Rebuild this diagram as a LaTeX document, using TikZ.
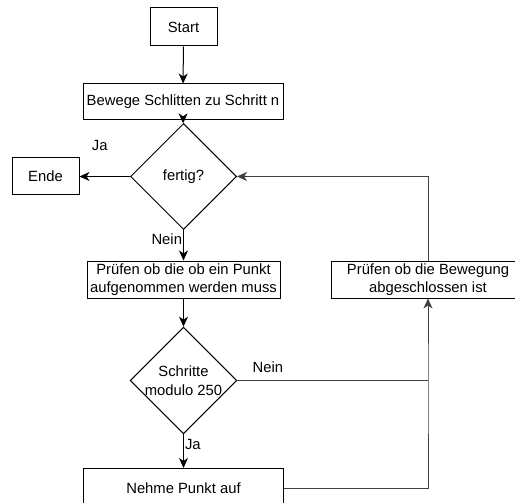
\documentclass[tikz,border=0pt]{standalone}
\usepackage{fontspec}
\setmainfont{Liberation Sans}
\usetikzlibrary{arrows.meta, shapes.geometric}

\tikzset{
	box/.style={draw, rectangle, align=center, inner sep=2pt},
	decision/.style={draw, diamond, align=center, inner sep=0pt, minimum width=106pt, minimum height=106pt},
	label/.style={inner sep=1pt, text=black}
}

\begin{document}
\begin{tikzpicture}[x=1pt, y=1pt, >={Stealth[length=10pt, width=9pt, inset=3pt]}, line width=1pt, font=\fontsize{14.8}{18.5}\selectfont]
			\useasboundingbox (0, 0) rectangle (515, -503);
			\clip (0, 0) rectangle (515, -503);

			\node[box, minimum width=67pt, minimum height=38pt]		(start)	at (183.5, -27)		{Start};
			\node[box, minimum width=200pt, minimum height=36pt]	(move)	at (183, -102)		{Bewege Schlitten zu Schritt n};
			\node[decision]											(done)	at (183.5, -176.5)	{fertig?};
			\node[box, minimum width=67pt, minimum height=37pt]		(ende)	at (45.5, -176.5)	{Ende};
			\node[box, minimum width=193pt, minimum height=37pt]	(check)	at (183.5, -279.5)	{Prüfen ob die ob ein Punkt\\aufgenommen werden muss};
			\node[decision]											(mod)	at (183.5, -380.5)	{Schritte\\modulo 250};
			\node[box, minimum width=200pt, minimum height=40pt]	(take)	at (183.5, -488.5)	{Nehme Punkt auf};
			\node[box, minimum width=194pt, minimum height=37pt]	(motion) at (428, -279.5)	{Prüfen ob die Bewegung\\abgeschlossen ist};
			\coordinate (join) at (motion.south |- mod.east);

			\draw[->] (start) -- (move);
			\draw[->] (move) -- (done);
			\draw[->] (done) -- node[label, above=24pt, pos=0.6] {Ja} (ende);
			\draw[->] (done) -- node[label, left, pos=0.3] {Nein} (check);
			\draw[->] (check) -- (mod);
			\draw[->] (mod) -- node[label, right, pos=0.3] {Ja} (take);
			\draw[black!75] (mod.east) -- node[label, above=6pt, pos=0.16] {Nein} (join);
			\draw[->, black!75] (take.east) -| (join) -- (motion.south);
			\draw[->, black!75] (motion.north) |- (done.east);
		\end{tikzpicture}
\end{document}
